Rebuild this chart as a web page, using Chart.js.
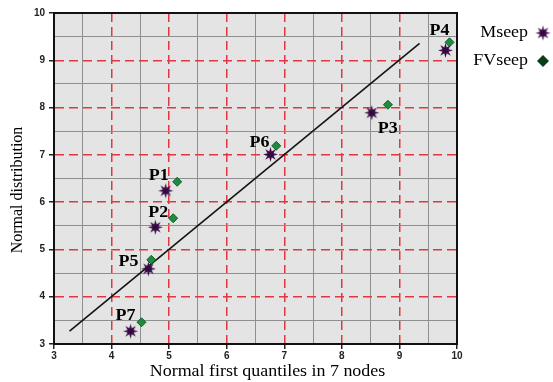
<!DOCTYPE html>
<html>
<head>
<meta charset="utf-8">
<script src="https://cdn.jsdelivr.net/npm/chart.js@4.4.1/dist/chart.umd.min.js"></script>
<style>
  body { margin: 0; background: #fff; }
  #wrap { width: 553px; height: 382px; position: relative; }
</style>
</head>
<body>
<div id="wrap"><canvas id="qq"></canvas></div>
<script>
// points P1..P7
const pointNames = ['P1', 'P2', 'P3', 'P4', 'P5', 'P6', 'P7'];
const mseepX = [4.94, 4.76, 8.52, 9.80, 4.64, 6.76, 4.33];
const mseepY = [6.24, 5.47, 7.89, 9.21, 4.59, 7.01, 3.27];
const fvseepX = [5.14, 5.07, 8.80, 9.87, 4.69, 6.86, 4.52];
const fvseepY = [6.43, 5.66, 8.06, 9.38, 4.78, 7.19, 3.46];
// fitted reference line end points
const fitX = [3.27, 9.35];
const fitY = [3.27, 9.36];
const axisMin = 3, axisMax = 10;

// where each P label sits relative to its Mseep star (px)
const labelShift = [[-7, -15], [3, -14], [16, 16], [-6, -19], [-20, -7], [-11, -12], [-5, -15]];

const serif = "'Liberation Serif', 'DejaVu Serif', serif";
const isInt = v => Math.abs(v - Math.round(v)) < 1e-6;

// 8-pointed star marker
function makeStar(r, inner, color) {
  const c = document.createElement('canvas');
  const s = Math.ceil(r * 2 + 2);
  c.width = s; c.height = s;
  const g = c.getContext('2d');
  g.translate(s / 2, s / 2);
  g.beginPath();
  for (let i = 0; i < 16; i++) {
    const rad = i % 2 === 0 ? r : inner;
    const a = -Math.PI / 2 + i * Math.PI / 8;
    g.lineTo(Math.cos(a) * rad, Math.sin(a) * rad);
  }
  g.closePath();
  g.fillStyle = color;
  g.fill();
  return c;
}
const star = makeStar(7.5, 3.2, '#360842');

const toPts = (xs, ys) => xs.map((x, i) => ({ x: x, y: ys[i] }));

// draws text squeezed a little wider, like the printed figure
function wideText(ctx, txt, x, y, font, align) {
  ctx.save();
  ctx.font = font;
  ctx.textAlign = align || 'center';
  ctx.textBaseline = 'middle';
  ctx.translate(x, y);
  ctx.scale(1.12, 1);
  ctx.fillText(txt, 0, 0);
  ctx.restore();
}

const decor = {
  id: 'decor',
  beforeDraw(chart) {
    const { ctx, chartArea: a } = chart;
    ctx.save();
    ctx.fillStyle = '#e4e4e4';
    ctx.fillRect(a.left, a.top, a.right - a.left, a.bottom - a.top);
    ctx.restore();
  },
  beforeDatasetsDraw(chart) {
    const { ctx, chartArea: a } = chart;
    ctx.save();
    ctx.strokeStyle = '#111';
    ctx.lineWidth = 2;
    ctx.strokeRect(a.left, a.top, a.right - a.left, a.bottom - a.top);
    ctx.restore();
  },
  afterDraw(chart) {
    const { ctx, chartArea: a } = chart;
    const xs = chart.scales.x, ys = chart.scales.y;
    ctx.save();
    ctx.fillStyle = '#000';
    // P labels
    pointNames.forEach((name, i) => {
      const px = xs.getPixelForValue(mseepX[i]) + labelShift[i][0];
      const py = ys.getPixelForValue(mseepY[i]) + labelShift[i][1];
      wideText(ctx, name, px, py, 'bold 16px ' + serif);
    });
    // axis titles
    wideText(ctx, 'Normal first quantiles in 7 nodes', (a.left + a.right) / 2 + 12, 372, '16px ' + serif);
    ctx.save();
    ctx.translate(18, 190);
    ctx.rotate(-Math.PI / 2);
    ctx.font = '16px ' + serif;
    ctx.textAlign = 'center';
    ctx.textBaseline = 'middle';
    ctx.fillText('Normal distribution', 0, 0);
    ctx.restore();
    // legend
    wideText(ctx, 'Mseep', 528, 33, '16px ' + serif, 'right');
    wideText(ctx, 'FVseep', 528, 61, '16px ' + serif, 'right');
    ctx.drawImage(star, 543 - star.width / 2, 33 - star.height / 2);
    ctx.beginPath();
    ctx.moveTo(543, 55); ctx.lineTo(549, 61); ctx.lineTo(543, 67); ctx.lineTo(537, 61);
    ctx.closePath();
    ctx.fillStyle = '#0b3d17';
    ctx.fill();
    ctx.restore();
  }
};

const axisCommon = {
  type: 'linear',
  min: axisMin,
  max: axisMax,
  ticks: {
    stepSize: 0.5,
    autoSkip: false,
    maxRotation: 0,
    color: '#222',
    font: { family: "'Liberation Sans', Arial, sans-serif", size: 10, weight: 'bold' },
    callback: v => isInt(v) ? v : ''
  },
  grid: {
    color: c => (c.tick && isInt(c.tick.value)) ? '#e0383e' : '#8f8f8f',
    lineWidth: c => (c.tick && isInt(c.tick.value)) ? 1.5 : 1,
    tickLength: 5,
    tickWidth: 1.5,
    tickColor: c => (c.tick && isInt(c.tick.value)) ? '#222' : 'rgba(0,0,0,0)'
  },
  border: {
    display: true,
    color: '#111',
    width: 2,
    dash: c => (c.tick && isInt(c.tick.value)) ? [9, 5] : []
  }
};

new Chart(document.getElementById('qq'), {
  type: 'scatter',
  data: {
    datasets: [
      {
        label: 'Mseep',
        data: toPts(mseepX, mseepY),
        pointStyle: star,
        pointRadius: 7
      },
      {
        label: 'FVseep',
        data: toPts(fvseepX, fvseepY),
        pointStyle: 'rectRot',
        pointRadius: 4.5,
        backgroundColor: '#1f8b3e',
        borderColor: '#11602a',
        borderWidth: 1
      },
      {
        type: 'line',
        label: 'fit',
        data: toPts(fitX, fitY),
        borderColor: '#141414',
        borderWidth: 1.6,
        pointRadius: 0,
        fill: false
      }
    ]
  },
  options: {
    responsive: true,
    maintainAspectRatio: false,
    animation: false,
    layout: { padding: { left: 0, right: 96, top: 13, bottom: 0 } },
    plugins: { legend: { display: false }, tooltip: { enabled: false } },
    scales: {
      x: Object.assign({}, axisCommon, {
        position: 'bottom',
        ticks: Object.assign({}, axisCommon.ticks, { padding: 1 }),
        afterFit: s => { s.height = 38; }
      }),
      y: Object.assign({}, axisCommon, {
        position: 'left',
        ticks: Object.assign({}, axisCommon.ticks, { padding: 4 }),
        afterFit: s => { s.width = 54; }
      })
    }
  },
  plugins: [decor]
});
</script>
</body>
</html>
